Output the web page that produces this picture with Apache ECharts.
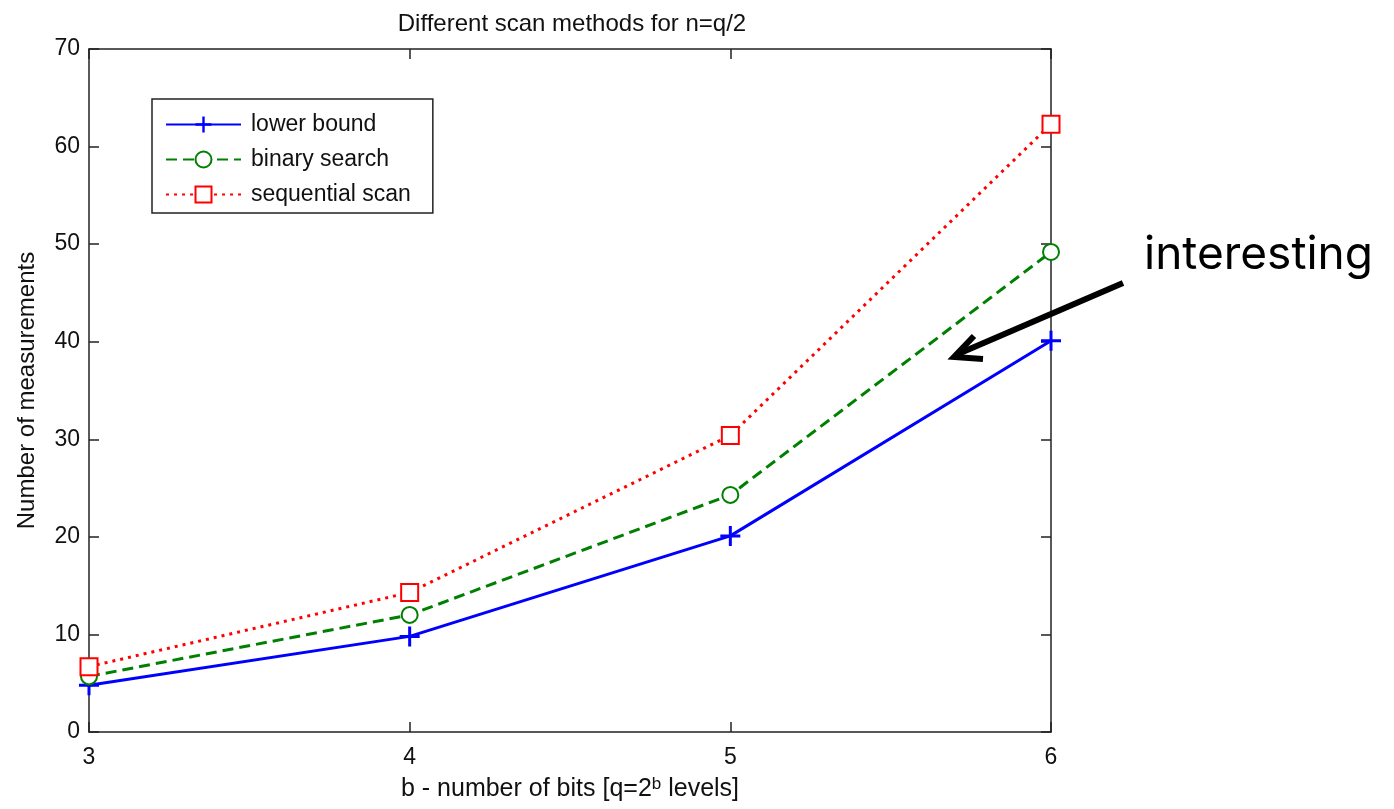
<!DOCTYPE html>
<html><head><meta charset="utf-8">
<script src="https://cdn.jsdelivr.net/npm/echarts@6/dist/echarts.min.js"></script>
<style>html,body{margin:0;padding:0;background:#fff}#c{width:1394px;height:809px}</style>
</head><body><div id="c"></div>
<script>
const bits = [3, 4, 5, 6];
const lowerBound = [4.8, 9.8, 20.1, 40.1];
const binarySearch = [5.7, 12.0, 24.3, 49.2];
const sequentialScan = [6.7, 14.3, 30.4, 62.3];
const yTicks = [0, 10, 20, 30, 40, 50, 60, 70];
const xTicks = [3, 4, 5, 6];

const FONT = '"Liberation Sans", Arial, sans-serif';
const chart = echarts.init(document.getElementById('c'));
const pair = (xs, ys) => xs.map((x, i) => [x, ys[i]]);
const plusPath = 'path://M-1.5,-10H1.5V-1.5H10V1.5H1.5V10H-1.5V1.5H-10V-1.5H-1.5Z';

const axisCommon = {
  axisLine: {show: true, onZero: false, lineStyle: {color: '#222', width: 1.5}},
  axisTick: {show: true, inside: true, length: 10, lineStyle: {color: '#222', width: 1.5}},
  splitLine: {show: false}
};

chart.setOption({
  animation: false,
  backgroundColor: '#fff',
  title: {
    text: 'Different scan methods for n=q/2',
    left: 567, top: 7, textAlign: 'center',
    textStyle: {fontFamily: FONT, fontSize: 24, fontWeight: 'normal', color: '#111'}
  },
  grid: {left: 89, right: 343, top: 49, bottom: 77, containLabel: false},
  legend: {
    left: 152, top: 99, orient: 'vertical',
    backgroundColor: '#fff',
    borderColor: '#222', borderWidth: 1.5,
    padding: [14, 22, 7, 13],
    itemWidth: 75, itemHeight: 20, itemGap: 12,
    textStyle: {fontFamily: FONT, fontSize: 23, color: '#111', padding: [0, 0, 0, 5]},
    data: ['lower bound', 'binary search', 'sequential scan']
  },
  xAxis: [
    Object.assign({
      type: 'value', min: 3, max: 6, interval: 1, position: 'bottom',
      name: '{a|b - number of bits [q=2}{s|b}{a| levels]}',
      nameLocation: 'middle', nameGap: 44,
      nameTextStyle: {rich: {
        a: {fontFamily: FONT, fontSize: 25, color: '#111'},
        s: {fontFamily: FONT, fontSize: 17, color: '#111', verticalAlign: 'top', padding: [0, 0, 10, 0]}
      }},
      axisLabel: {fontFamily: FONT, fontSize: 23, color: '#111', margin: 14,
        formatter: v => xTicks.includes(v) ? String(v) : ''}
    }, axisCommon),
    Object.assign({
      type: 'value', min: 3, max: 6, interval: 1, position: 'top',
      axisLabel: {show: false}
    }, axisCommon)
  ],
  yAxis: [
    Object.assign({
      type: 'value', min: 0, max: 70, interval: 10, position: 'left',
      name: 'Number of measurements', nameLocation: 'middle', nameGap: 50,
      nameTextStyle: {fontFamily: FONT, fontSize: 24, color: '#111'},
      axisLabel: {fontFamily: FONT, fontSize: 23, color: '#111', margin: 9,
        formatter: v => yTicks.includes(v) ? String(v) : ''}
    }, axisCommon),
    Object.assign({
      type: 'value', min: 0, max: 70, interval: 10, position: 'right',
      axisLabel: {show: false}
    }, axisCommon)
  ],
  series: [
    {
      name: 'lower bound', type: 'line', data: pair(bits, lowerBound),
      symbol: plusPath, symbolSize: 20, showAllSymbol: true,
      lineStyle: {color: '#0000ff', width: 3, type: 'solid'},
      itemStyle: {color: '#0000ff'}, z: 3
    },
    {
      name: 'binary search', type: 'line', data: pair(bits, binarySearch),
      symbol: 'emptyCircle', symbolSize: 16,
      lineStyle: {color: '#008000', width: 3, type: [11, 6]},
      itemStyle: {color: '#008000', borderWidth: 3, borderColor: '#008000'}, z: 4
    },
    {
      name: 'sequential scan', type: 'line', data: pair(bits, sequentialScan),
      symbol: 'emptyRect', symbolSize: 17,
      lineStyle: {color: '#ff0000', width: 3, type: [3, 5]},
      itemStyle: {color: '#ff0000', borderWidth: 3, borderColor: '#ff0000'}, z: 5
    }
  ],
  graphic: [
    {
      type: 'line', shape: {x1: 1123, y1: 283, x2: 958, y2: 354},
      style: {stroke: '#000', lineWidth: 6}, z: 100
    },
    {
      type: 'polyline', shape: {points: [[974, 336], [954, 357], [983, 359]]},
      style: {stroke: '#000', lineWidth: 6, fill: null, lineJoin: 'miter'}, z: 100
    },
    {
      type: 'text', left: 1144, top: 232,
      style: {text: 'interesting', font: '46px Inter, "Open Sans", sans-serif', fill: '#000'}, z: 100
    }
  ]
});
</script></body></html>
